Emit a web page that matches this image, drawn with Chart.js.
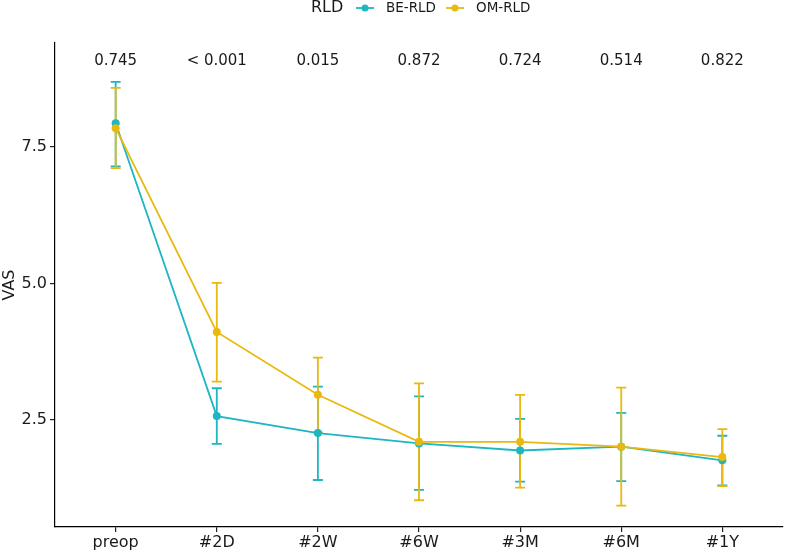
<!DOCTYPE html>
<html>
<head>
<meta charset="utf-8">
<script src="https://cdn.jsdelivr.net/npm/chart.js@4"></script>
<style>
  html, body { margin: 0; padding: 0; background: #fff; }
  #wrap { position: relative; width: 787px; height: 552px; }
</style>
</head>
<body>
<div id="wrap"><canvas id="vasChart" width="787" height="552"></canvas></div>
<script>
// data
const categories = ['preop', '#2D', '#2W', '#6W', '#3M', '#6M', '#1Y'];
const pValues = ['0.745', '< 0.001', '0.015', '0.872', '0.724', '0.514', '0.822'];
const beMean = [7.93, 2.57, 2.26, 2.07, 1.94, 2.01, 1.76];
const beLow  = [7.14, 2.06, 1.40, 1.22, 1.37, 1.38, 1.30];
const beHigh = [8.69, 3.08, 3.11, 2.93, 2.52, 2.63, 2.21];
const omMean = [7.84, 4.11, 2.96, 2.10, 2.10, 2.01, 1.82];
const omLow  = [7.11, 3.20, 2.27, 1.03, 1.26, 0.93, 1.29];
const omHigh = [8.58, 5.01, 3.64, 3.17, 2.96, 3.09, 2.33];
const yTicks = [2.5, 5.0, 7.5];

const TEAL = '#1DB6C3';
const GOLD = '#E9B90F';
const FONT = "'DejaVu Sans', sans-serif";

const toPoints = arr => arr.map((v, i) => ({ x: i, y: v }));

// error bars + p-value labels + y title + legend
const extras = {
  id: 'extras',
  beforeDatasetsDraw(chart) {
    const ctx = chart.ctx;
    const xs = chart.scales.x, ys = chart.scales.y;
    const bars = [[TEAL, beLow, beHigh], [GOLD, omLow, omHigh]];
    ctx.save();
    ctx.lineWidth = 1.8;
    bars.forEach(([col, lo, hi]) => {
      ctx.strokeStyle = col;
      lo.forEach((l, i) => {
        const x = xs.getPixelForValue(i);
        const y1 = ys.getPixelForValue(l), y2 = ys.getPixelForValue(hi[i]);
        ctx.beginPath();
        ctx.moveTo(x, y1); ctx.lineTo(x, y2);
        ctx.moveTo(x - 5, y1); ctx.lineTo(x + 5, y1);
        ctx.moveTo(x - 5, y2); ctx.lineTo(x + 5, y2);
        ctx.stroke();
      });
    });
    ctx.restore();
  },
  afterDraw(chart) {
    const ctx = chart.ctx;
    const xs = chart.scales.x, ys = chart.scales.y;
    ctx.save();
    ctx.fillStyle = '#1a1a1a';
    ctx.font = '15px ' + FONT;
    ctx.textAlign = 'center';
    ctx.textBaseline = 'middle';
    pValues.forEach((p, i) => {
      ctx.fillText(p, xs.getPixelForValue(i), ys.getPixelForValue(9.06));
    });

    // y axis title
    ctx.save();
    ctx.translate(10, (chart.chartArea.top + chart.chartArea.bottom) / 2);
    ctx.rotate(-Math.PI / 2);
    ctx.font = '16px ' + FONT;
    ctx.fillText('VAS', 0, 0);
    ctx.restore();

    // legend
    const ly = 8;
    ctx.textAlign = 'left';
    ctx.font = '16px ' + FONT;
    ctx.fillText('RLD', 311, ly);
    ctx.font = '13.5px ' + FONT;
    [[TEAL, 'BE-RLD', 356], [GOLD, 'OM-RLD', 446]].forEach(([col, name, x0]) => {
      ctx.strokeStyle = col;
      ctx.lineWidth = 1.8;
      ctx.beginPath(); ctx.moveTo(x0, ly); ctx.lineTo(x0 + 18, ly); ctx.stroke();
      ctx.fillStyle = col;
      ctx.beginPath(); ctx.arc(x0 + 9, ly, 3.5, 0, Math.PI * 2); ctx.fill();
      ctx.fillStyle = '#1a1a1a';
      ctx.fillText(name, x0 + 30, ly);
    });
    ctx.restore();
  }
};

new Chart(document.getElementById('vasChart').getContext('2d'), {
  type: 'line',
  data: {
    datasets: [
      {
        label: 'BE-RLD', data: toPoints(beMean), order: 1,
        borderColor: TEAL, backgroundColor: TEAL, borderWidth: 1.8,
        pointRadius: 4, pointBorderWidth: 0, tension: 0
      },
      {
        label: 'OM-RLD', data: toPoints(omMean), order: 0,
        borderColor: GOLD, backgroundColor: GOLD, borderWidth: 1.8,
        pointRadius: 4, pointBorderWidth: 0, tension: 0
      }
    ]
  },
  options: {
    responsive: false,
    animation: false,
    layout: { padding: { left: 0, right: 0, top: 43, bottom: 0 } },
    plugins: { legend: { display: false }, tooltip: { enabled: false } },
    scales: {
      x: {
        type: 'linear', min: -0.6, max: 6.6,
        afterBuildTicks: s => { s.ticks = categories.map((c, i) => ({ value: i })); },
        afterFit: s => { s.height = 25; },
        grid: { drawOnChartArea: false, drawTicks: true, tickLength: 5, color: '#222', lineWidth: 1.2 },
        border: { display: true, color: '#000', width: 1.2 },
        ticks: {
          padding: 1, color: '#1a1a1a', font: { family: FONT, size: 16 },
          maxRotation: 0, autoSkip: false,
          callback: v => categories[v]
        }
      },
      y: {
        min: 0.54, max: 9.4,
        afterBuildTicks: s => { s.ticks = yTicks.map(v => ({ value: v })); },
        afterFit: s => { s.width = 55; },
        grid: { drawOnChartArea: false, drawTicks: true, tickLength: 5, color: '#222', lineWidth: 1.2 },
        border: { display: true, color: '#000', width: 1.2 },
        ticks: {
          padding: 3, color: '#1a1a1a', font: { family: FONT, size: 16 },
          callback: v => v.toFixed(1)
        }
      }
    }
  },
  plugins: [extras]
});
</script>
</body>
</html>
